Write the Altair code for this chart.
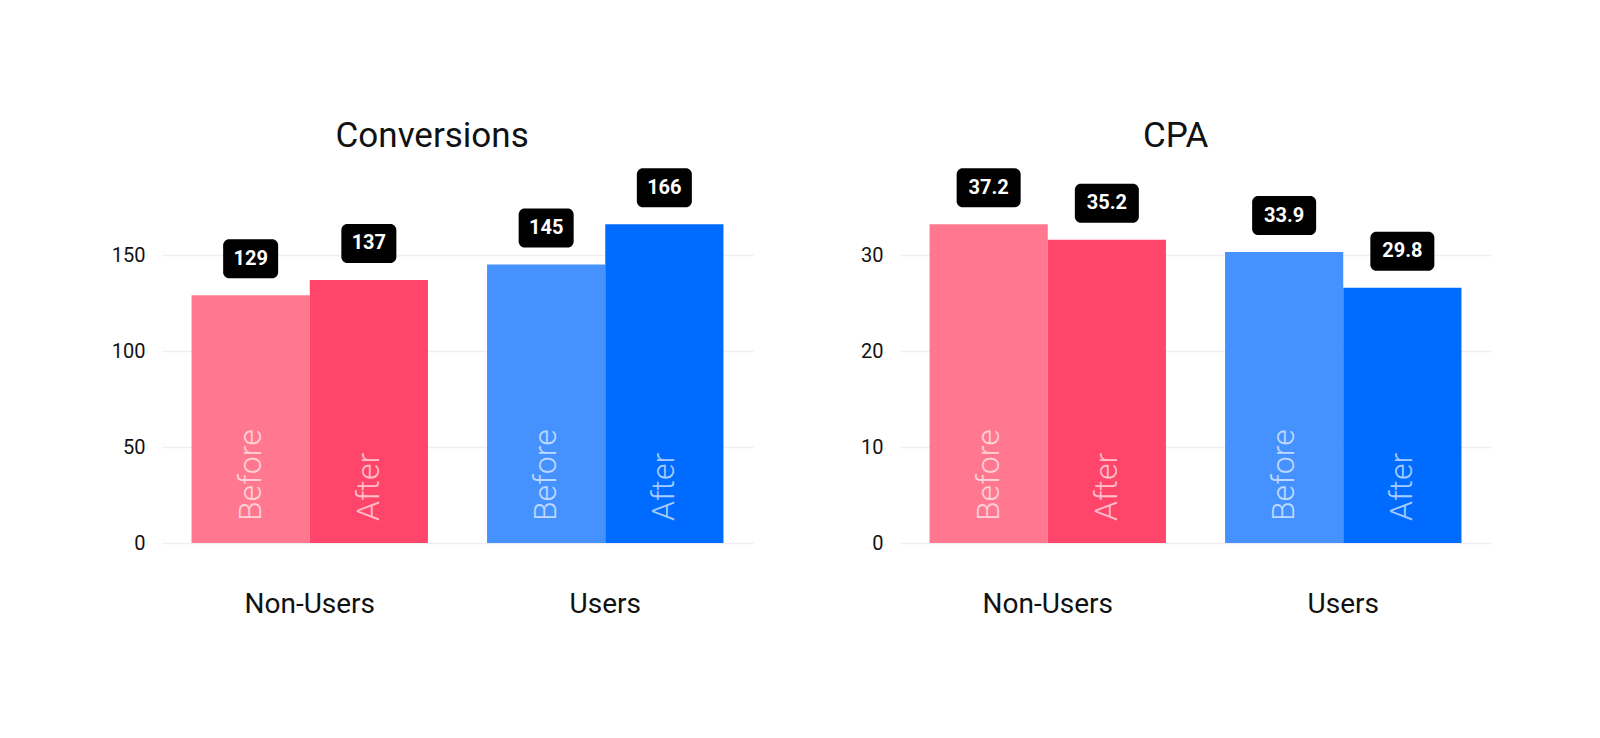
import altair as alt
import pandas as pd

categories = ["Non-Users", "Users"]
periods = ["Before", "After"]

conv_groups = ["Non-Users", "Non-Users", "Users", "Users"]
conv_periods = ["Before", "After", "Before", "After"]
conv_values = [129, 137, 145, 166]
conv_labels = ["129", "137", "145", "166"]

cpa_groups = ["Non-Users", "Non-Users", "Users", "Users"]
cpa_periods = ["Before", "After", "Before", "After"]
cpa_bar_heights = [33.2, 31.6, 30.3, 26.6]
cpa_labels = ["37.2", "35.2", "33.9", "29.8"]

conv_ticks = [0, 50, 100, 150]
cpa_ticks = [0, 10, 20, 30]

color_keys = ["Non-Users|Before", "Non-Users|After", "Users|Before", "Users|After"]
color_range = ["#FF788F", "#FF456A", "#4592FF", "#006CFF"]

FONT = "Roboto"


def make_df(groups, pers, values, labels):
    return pd.DataFrame({
        "group": groups,
        "period": pers,
        "value": values,
        "label": labels,
        "key": [g + "|" + p for g, p in zip(groups, pers)],
    })


def panel(df, title, dmax, ticks, box_w):
    base = alt.Chart(df).encode(
        x=alt.X("group:N", sort=categories,
                scale=alt.Scale(paddingInner=0.2, paddingOuter=0.1),
                axis=alt.Axis(title=None, labelAngle=0, ticks=False, domain=False,
                              labelFontSize=28, labelFont=FONT, labelColor="#111",
                              labelPadding=47, grid=False)),
        xOffset=alt.XOffset("period:N", sort=periods,
                            scale=alt.Scale(paddingInner=0, paddingOuter=0)),
    )
    yscale = alt.Scale(domain=[0, dmax], nice=False, zero=True)
    bars = base.mark_bar().encode(
        y=alt.Y("value:Q", scale=yscale,
                axis=alt.Axis(values=ticks, title=None, ticks=False, domain=False,
                              labelFontSize=20, labelFont=FONT, labelColor="#111",
                              labelPadding=17, gridColor="#EEEEF3", gridWidth=1.5)),
        color=alt.Color("key:N", scale=alt.Scale(domain=color_keys, range=color_range),
                        legend=None),
    )
    inner = base.mark_text(angle=270, align="left", baseline="middle", dx=22,
                           fontSize=32, font=FONT, fontWeight=300,
                           color="white", opacity=0.65).encode(
        y=alt.datum(0), text="period:N")
    boxes = base.mark_bar(width=box_w, cornerRadius=6, color="black",
                          yOffset=-17, y2Offset=-56).encode(
        y="value:Q", y2="value:Q")
    btext = base.mark_text(color="white", fontSize=20, fontWeight="bold", font=FONT,
                           baseline="middle", yOffset=-36.5).encode(
        y="value:Q", text="label:N")
    return alt.layer(bars, inner, boxes, btext).properties(
        width=591, height=384,
        title=alt.TitleParams(title, fontSize=35, font=FONT, fontWeight=400,
                              color="#111", offset=5, frame="bounds",
                              anchor="middle"),
    )


left = panel(make_df(conv_groups, conv_periods, conv_values, conv_labels),
             "Conversions", 200, conv_ticks, 55)
right = panel(make_df(cpa_groups, cpa_periods, cpa_bar_heights, cpa_labels),
              "CPA", 40, cpa_ticks, 64)

chart = alt.hconcat(left, right, spacing=107).properties(
    padding={"left": 103, "top": 111, "right": 10, "bottom": 10},
    background="white",
).configure_view(strokeWidth=0, stroke="transparent")

chart.save("out.html", embed_options={"renderer": "svg", "actions": False})
